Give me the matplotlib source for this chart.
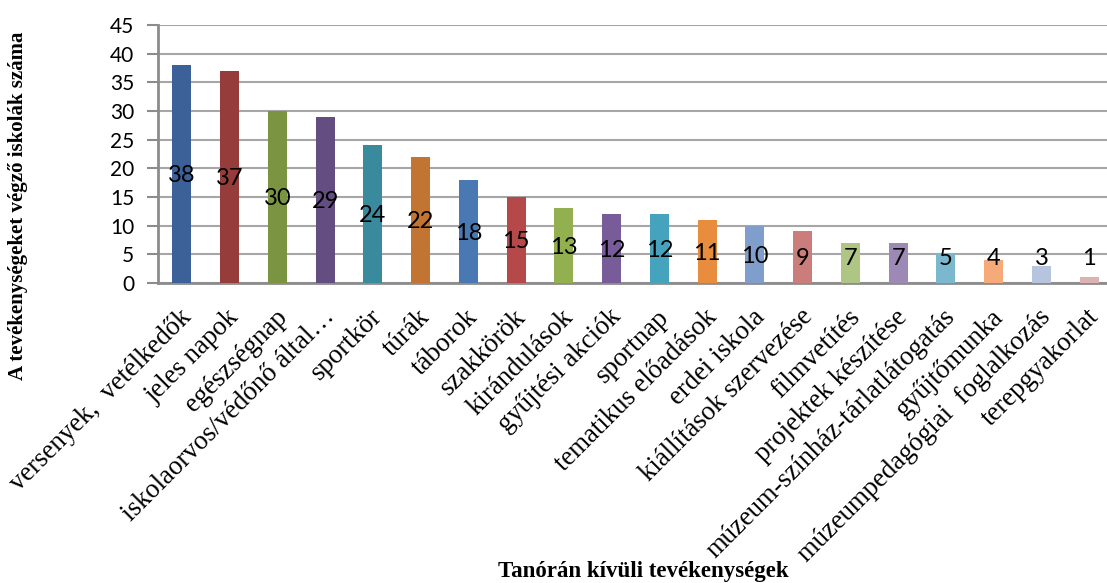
import matplotlib
matplotlib.use("Agg")
import matplotlib.pyplot as plt
from matplotlib.transforms import ScaledTranslation

categories = [
    "versenyek,  vetélkedők", "jeles napok", "egészségnap", "iskolaorvos/védőnő által…",
    "sportkör", "túrák", "táborok", "szakkörök", "kirándulások", "gyűjtési akciók",
    "sportnap", "tematikus előadások", "erdei iskola", "kiállítások szervezése",
    "filmvetítés", "projektek készítése", "múzeum-színház-tárlatlátogatás",
    "gyűjtőmunka", "múzeumpedagógiai  foglalkozás", "terepgyakorlat",
]
values = [38, 37, 30, 29, 24, 22, 18, 15, 13, 12, 12, 11, 10, 9, 7, 7, 5, 4, 3, 1]
colors = [
    "#3C6199", "#963D3B", "#7A9441", "#644D80", "#3A8A9E", "#C27533", "#4A78B2",
    "#B5494A", "#92B050", "#775C99", "#46A3BD", "#E88D3E", "#809ECB", "#CB7D7C",
    "#AFC584", "#9C89B5", "#7BB8CE", "#F6AA7A", "#B7C4DD", "#DCB3B3",
]
yticks = [0, 5, 10, 15, 20, 25, 30, 35, 40, 45]
ylabel = "A tevékenységeket végző iskolák száma"
xlabel = "Tanórán kívüli tevékenységek"

W, H = 1107, 583
fig = plt.figure(figsize=(W / 100, H / 100), dpi=100)
ax = fig.add_axes([158 / W, 300 / H, (1113 - 158) / W, 258 / H])

x = list(range(len(values)))
ax.bar(x, values, width=0.4, color=colors, zorder=3)
ax.set_xlim(-0.5, len(values) - 0.5)
ax.set_ylim(0, 45)
ax.set_yticks(yticks)
ax.yaxis.grid(True, color="#A6A6A6", linewidth=1.5, zorder=0)
ax.set_axisbelow(True)

for s in ("top", "right"):
    ax.spines[s].set_visible(False)
for s in ("left", "bottom"):
    ax.spines[s].set_color("#8C8C8C")
    ax.spines[s].set_linewidth(2)

ax.tick_params(axis="y", length=8, width=1.5, color="#8C8C8C", pad=9,
               labelsize=15, labelfontfamily="Lato")
ax.tick_params(axis="x", length=0, pad=15.5)
ax.set_xticks(x)
ax.set_xticklabels(categories, rotation=45, ha="right", rotation_mode="anchor",
                   fontfamily="Liberation Serif", fontsize=19.3)
shift = ScaledTranslation(-3 / 100, 0, fig.dpi_scale_trans)
for lab in ax.get_xticklabels():
    lab.set_transform(lab.get_transform() + shift)

for xi, v in zip(x, values):
    ax.text(xi, max(v / 2 - 0.3, 4.3), str(v), ha="center", va="center",
            fontsize=17, fontfamily="Lato", color="black", zorder=4)

fig.text(18 / W, 1 - 206 / H, ylabel, rotation=90, ha="center", va="center",
         fontfamily="Liberation Serif", fontweight="bold", fontsize=15)
fig.text(643 / W, 1 - 572 / H, xlabel, ha="center", va="center",
         fontfamily="Liberation Serif", fontweight="bold", fontsize=16.5)

fig.savefig("out.png", dpi=100)
